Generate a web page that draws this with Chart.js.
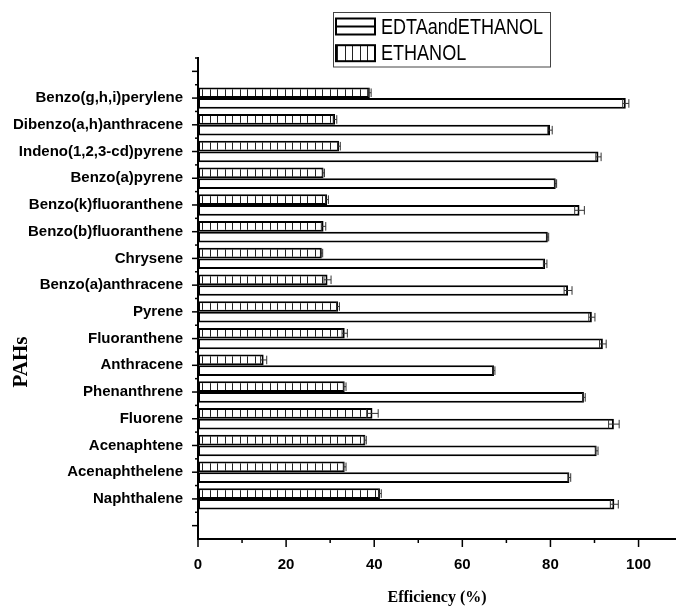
<!DOCTYPE html>
<html>
<head>
<meta charset="utf-8">
<script src="https://cdn.jsdelivr.net/npm/chart.js@4/dist/chart.umd.min.js"></script>
<style>
  html, body { margin: 0; padding: 0; background: #fff; }
  canvas { display: block; }
</style>
</head>
<body>
<canvas id="chart" width="676" height="609"></canvas>
<script>
// PAH removal efficiency, bottom to top
const categories = ['Naphthalene', 'Acenaphthelene', 'Acenaphtene', 'Fluorene', 'Phenanthrene',
  'Anthracene', 'Fluoranthene', 'Pyrene', 'Benzo(a)anthracene', 'Chrysene',
  'Benzo(b)fluoranthene', 'Benzo(k)fluoranthene', 'Benzo(a)pyrene',
  'Indeno(1,2,3-cd)pyrene', 'Dibenzo(a,h)anthracene', 'Benzo(g,h,i)perylene'];

const ethanol    = [41.3, 33.3, 38.0, 39.6, 33.3, 14.9, 33.3, 31.8, 29.4, 28.1, 28.5, 29.3, 28.5, 32.0, 31.1, 39.0];
const ethanolErr = [0.3, 0.3, 0.2, 1.3, 0.3, 0.7, 0.6, 0.3, 0.8, 0.2, 0.5, 0.3, 0.2, 0.3, 0.4, 0.3];
const edta       = [94.5, 84.3, 90.5, 94.4, 87.6, 67.2, 91.9, 89.4, 84.0, 78.8, 79.4, 86.6, 81.2, 90.9, 79.9, 97.1];
const edtaErr    = [0.9, 0.3, 0.3, 1.2, 0.3, 0.2, 0.75, 0.7, 0.9, 0.4, 0.2, 1.1, 0.2, 0.6, 0.5, 0.7];

const xTicks = [0, 20, 40, 60, 80, 100];
const xMax = 108.5;

// empty slot below and above, like the original axis
const labels = ['', ...categories, ''];
const pad = arr => [null, ...arr, null];

function hatch() {
  const c = document.createElement('canvas');
  c.width = 15; c.height = 4;
  const g = c.getContext('2d');
  g.fillStyle = '#fff';
  g.fillRect(0, 0, 15, 4);
  g.fillStyle = '#222';
  g.fillRect(0, 0, 1, 4);
  g.fillRect(7, 0, 1, 4);
  return g.createPattern(c, 'repeat');
}
const vlines = hatch();

const extras = {
  id: 'extras',
  afterDraw(chart) {
    const ctx = chart.ctx;
    const xs = chart.scales.x, ys = chart.scales.y;
    ctx.save();
    ctx.strokeStyle = '#000';
    ctx.lineWidth = 1.5;

    // y ticks: long at categories, short between
    for (let i = 0; i < labels.length; i++) {
      const y = ys.getPixelForValue(i);
      ctx.beginPath(); ctx.moveTo(xs.left - 6, y); ctx.lineTo(xs.left, y); ctx.stroke();
      const ym = ys.getPixelForValue(i + 0.5);
      if (i < labels.length - 1) {
        ctx.beginPath(); ctx.moveTo(xs.left - 3, ym); ctx.lineTo(xs.left, ym); ctx.stroke();
      }
    }
    const yTop = ys.getPixelForValue(labels.length - 0.5);
    ctx.beginPath(); ctx.moveTo(xs.left - 3, yTop); ctx.lineTo(xs.left, yTop); ctx.stroke();

    // x ticks: long at labelled values, short halfway
    xs.ticks.forEach(t => {
      const x = xs.getPixelForValue(t.value);
      const len = xTicks.includes(t.value) ? 8 : 4;
      ctx.beginPath(); ctx.moveTo(x, ys.bottom); ctx.lineTo(x, ys.bottom + len); ctx.stroke();
    });

    // error bars
    const errs = [ethanolErr, edtaErr];
    ctx.strokeStyle = '#333';
    ctx.lineWidth = 1;
    chart.data.datasets.forEach((ds, d) => {
      chart.getDatasetMeta(d).data.forEach((bar, i) => {
        const v = ds.data[i];
        if (v == null) return;
        const e = errs[d][i - 1];
        const x0 = xs.getPixelForValue(v - e), x1 = xs.getPixelForValue(v + e);
        const h = bar.height * 0.4;
        ctx.beginPath();
        ctx.moveTo(x0, bar.y); ctx.lineTo(x1, bar.y);
        ctx.moveTo(x0, bar.y - h); ctx.lineTo(x0, bar.y + h);
        ctx.moveTo(x1, bar.y - h); ctx.lineTo(x1, bar.y + h);
        ctx.stroke();
      });
    });

    // legend
    ctx.fillStyle = '#fff';
    ctx.fillRect(333, 12.5, 217, 54.5);
    ctx.strokeStyle = '#444';
    ctx.lineWidth = 1;
    ctx.strokeRect(333.5, 12.5, 217, 54.5);
    const items = [chart.data.datasets[1], chart.data.datasets[0]];
    items.forEach((ds, k) => {
      const top = 18.5 + k * 26.7;
      ctx.fillStyle = ds.backgroundColor;
      ctx.fillRect(336, top, 39, 16);
      ctx.strokeStyle = '#000';
      ctx.lineWidth = 2;
      ctx.strokeRect(336, top, 39, 16);
      if (k === 0) {
        ctx.beginPath(); ctx.moveTo(336, top + 8); ctx.lineTo(375, top + 8); ctx.stroke();
      }
      // narrow lettering, as in the original legend
      ctx.save();
      ctx.translate(381, top + 9);
      ctx.scale(0.82, 1);
      ctx.fillStyle = '#000';
      ctx.font = '22px "Liberation Sans", Arial, sans-serif';
      ctx.textAlign = 'left';
      ctx.textBaseline = 'middle';
      ctx.fillText(ds.label, 0, 0);
      ctx.restore();
    });

    // y title
    ctx.save();
    ctx.translate(22, 362);
    ctx.rotate(-Math.PI / 2);
    ctx.font = 'bold 21px "Liberation Serif", serif';
    ctx.fillStyle = '#000';
    ctx.textAlign = 'center';
    ctx.textBaseline = 'middle';
    ctx.fillText('PAHs', 0, 0);
    ctx.restore();

    ctx.restore();
  }
};

new Chart(document.getElementById('chart'), {
  type: 'bar',
  data: {
    labels: labels,
    datasets: [
      {
        label: 'ETHANOL',
        data: pad(ethanol),
        backgroundColor: vlines,
        borderColor: '#000',
        borderWidth: 2,
        borderSkipped: false
      },
      {
        label: 'EDTAandETHANOL',
        data: pad(edta),
        backgroundColor: '#fff',
        borderColor: '#000',
        borderWidth: 2,
        borderSkipped: false
      }
    ]
  },
  options: {
    indexAxis: 'y',
    responsive: false,
    animation: false,
    devicePixelRatio: 1,
    categoryPercentage: 0.8,
    barPercentage: 1.0,
    layout: { padding: { top: 58, right: 0, left: 0, bottom: 0 } },
    plugins: { legend: { display: false }, tooltip: { enabled: false } },
    scales: {
      x: {
        min: 0,
        max: xMax,
        grid: { display: false },
        border: { display: true, color: '#000', width: 2 },
        afterBuildTicks: s => {
          s.ticks = xTicks.flatMap(v => [v, v + 10]).filter(v => v <= xMax).map(v => ({ value: v }));
        },
        afterFit: s => { s.height = 70; },
        ticks: {
          autoSkip: false,
          maxRotation: 0,
          padding: 9,
          color: '#000',
          font: { family: '"Liberation Sans", Arial, sans-serif', size: 15, weight: 'bold' },
          callback: v => xTicks.includes(v) ? v : ''
        },
        title: {
          display: true,
          text: 'Efficiency (%)',
          color: '#000',
          font: { family: '"Liberation Serif", serif', size: 16, weight: 'bold' },
          padding: { top: 0, bottom: 2 }
        }
      },
      y: {
        reverse: true,
        grid: { display: false },
        border: { display: true, color: '#000', width: 2 },
        afterFit: s => { s.width = 198; },
        ticks: {
          autoSkip: false,
          padding: 7,
          color: '#000',
          font: { family: '"Liberation Sans", Arial, sans-serif', size: 15, weight: 'bold' }
        }
      }
    }
  },
  plugins: [extras]
});
</script>
</body>
</html>
